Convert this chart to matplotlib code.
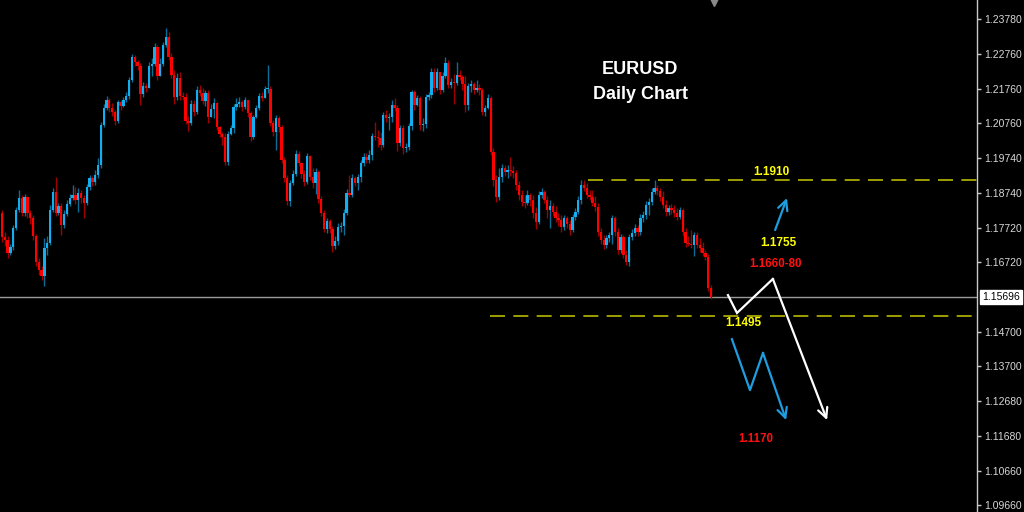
import numpy as np
import matplotlib
matplotlib.use("Agg")
import matplotlib.pyplot as plt
from matplotlib.transforms import blended_transform_factory

# ---------------- data ----------------
first_open = 1.1814
closes = [
    1.1745, 1.1736, 1.1698, 1.1716, 1.1771, 1.1823, 1.1858, 1.1814, 1.1861, 1.1814,
    1.1800, 1.1748, 1.1672, 1.1649, 1.1632, 1.1713, 1.1727, 1.1823, 1.1875, 1.1814,
    1.1835, 1.1779, 1.1811, 1.1840, 1.1858, 1.1866, 1.1852, 1.1872, 1.1858, 1.1843,
    1.1890, 1.1916, 1.1904, 1.1924, 1.1953, 1.2070, 1.2120, 1.2143, 1.2120, 1.2108,
    1.2082, 1.2137, 1.2126, 1.2143, 1.2155, 1.2201, 1.2268, 1.2253, 1.2242, 1.2160,
    1.2184, 1.2178, 1.2242, 1.2247, 1.2297, 1.2213, 1.2247, 1.2302, 1.2326, 1.2268,
    1.2215, 1.2152, 1.2207, 1.2155, 1.2152, 1.2082, 1.2076, 1.2131, 1.2108, 1.2172,
    1.2163, 1.2140, 1.2163, 1.2094, 1.2117, 1.2134, 1.2065, 1.2044, 1.2035, 1.1962,
    1.2044, 1.2062, 1.2123, 1.2131, 1.2137, 1.2123, 1.2143, 1.2105, 1.2035, 1.2094,
    1.2120, 1.2155, 1.2149, 1.2175, 1.2175, 1.2076, 1.2050, 1.2091, 1.2065, 1.1968,
    1.1916, 1.1849, 1.1901, 1.1927, 1.1986, 1.1959, 1.1927, 1.1904, 1.1980, 1.1919,
    1.1901, 1.1933, 1.1855, 1.1814, 1.1768, 1.1791, 1.1768, 1.1719, 1.1733, 1.1774,
    1.1777, 1.1814, 1.1872, 1.1866, 1.1916, 1.1901, 1.1919, 1.1959, 1.1977, 1.1968,
    1.1983, 1.2038, 1.2035, 1.2032, 1.2012, 1.2099, 1.2091, 1.2094, 1.2128, 1.2120,
    1.2018, 1.2062, 1.2003, 1.2006, 1.2067, 1.2166, 1.2128, 1.2149, 1.2070, 1.2073,
    1.2152, 1.2157, 1.2224, 1.2178, 1.2224, 1.2172, 1.2213, 1.2250, 1.2186, 1.2195,
    1.2192, 1.2215, 1.2210, 1.2189, 1.2128, 1.2184, 1.2189, 1.2172, 1.2178, 1.2172,
    1.2108, 1.2120, 1.2149, 1.1991, 1.1910, 1.1861, 1.1919, 1.1945, 1.1933, 1.1939,
    1.1936, 1.1930, 1.1895, 1.1866, 1.1846, 1.1843, 1.1866, 1.1852, 1.1814, 1.1788,
    1.1866, 1.1875, 1.1852, 1.1823, 1.1835, 1.1817, 1.1800, 1.1794, 1.1774, 1.1800,
    1.1782, 1.1765, 1.1803, 1.1817, 1.1852, 1.1895, 1.1887, 1.1866, 1.1861, 1.1843,
    1.1832, 1.1759, 1.1736, 1.1721, 1.1742, 1.1750, 1.1800, 1.1759, 1.1707, 1.1745,
    1.1692, 1.1672, 1.1745, 1.1756, 1.1771, 1.1759, 1.1800, 1.1808, 1.1837, 1.1846,
    1.1875, 1.1887, 1.1878, 1.1861, 1.1837, 1.1817, 1.1829, 1.1823, 1.1814, 1.1803,
    1.1823, 1.1759, 1.1727, 1.1724, 1.1721, 1.1750, 1.1721, 1.1713, 1.1698, 1.1687,
    1.1597, 1.15696]
highs = [
    1.1823, 1.1759, 1.1748, 1.1724, 1.1779, 1.1832, 1.1881, 1.1866, 1.1869, 1.1864,
    1.1823, 1.1808, 1.1753, 1.1684, 1.1661, 1.1742, 1.1748, 1.1837, 1.1887, 1.1919,
    1.1843, 1.1843, 1.1823, 1.1852, 1.1869, 1.1895, 1.1890, 1.1887, 1.1881, 1.1866,
    1.1898, 1.1924, 1.1922, 1.1939, 1.1974, 1.2079, 1.2131, 1.2155, 1.2149, 1.2134,
    1.2114, 1.2143, 1.2143, 1.2152, 1.2166, 1.2210, 1.2276, 1.2273, 1.2259, 1.2250,
    1.2195, 1.2192, 1.2253, 1.2265, 1.2308, 1.2302, 1.2265, 1.2311, 1.2352, 1.2340,
    1.2279, 1.2230, 1.2221, 1.2224, 1.2166, 1.2163, 1.2097, 1.2143, 1.2143, 1.2184,
    1.2186, 1.2178, 1.2172, 1.2172, 1.2131, 1.2149, 1.2137, 1.2067, 1.2050, 1.2047,
    1.2053, 1.2070, 1.2131, 1.2149, 1.2152, 1.2143, 1.2152, 1.2134, 1.2111, 1.2099,
    1.2128, 1.2163, 1.2166, 1.2184, 1.2244, 1.2184, 1.2085, 1.2099, 1.2097, 1.2070,
    1.1977, 1.1924, 1.1910, 1.1939, 1.1997, 1.1994, 1.1962, 1.1939, 1.1988, 1.1983,
    1.1945, 1.1945, 1.1939, 1.1864, 1.1823, 1.1800, 1.1797, 1.1777, 1.1748, 1.1785,
    1.1788, 1.1826, 1.1884, 1.1924, 1.1927, 1.1922, 1.1927, 1.1968, 1.1988, 1.1988,
    1.1997, 1.2047, 1.2079, 1.2056, 1.2050, 1.2108, 1.2114, 1.2105, 1.2143, 1.2149,
    1.2128, 1.2070, 1.2070, 1.2018, 1.2076, 1.2172, 1.2172, 1.2157, 1.2155, 1.2091,
    1.2160, 1.2166, 1.2236, 1.2236, 1.2236, 1.2224, 1.2224, 1.2268, 1.2259, 1.2207,
    1.2218, 1.2253, 1.2230, 1.2215, 1.2213, 1.2192, 1.2201, 1.2195, 1.2201, 1.2189,
    1.2178, 1.2128, 1.2160, 1.2155, 1.2003, 1.1924, 1.1945, 1.1956, 1.1953, 1.1953,
    1.1977, 1.1951, 1.1939, 1.1907, 1.1881, 1.1866, 1.1881, 1.1872, 1.1866, 1.1832,
    1.1878, 1.1887, 1.1881, 1.1864, 1.1852, 1.1843, 1.1835, 1.1814, 1.1808, 1.1808,
    1.1806, 1.1794, 1.1811, 1.1829, 1.1864, 1.1910, 1.1910, 1.1901, 1.1881, 1.1881,
    1.1864, 1.1843, 1.1771, 1.1750, 1.1750, 1.1759, 1.1808, 1.1806, 1.1771, 1.1753,
    1.1750, 1.1707, 1.1753, 1.1768, 1.1782, 1.1779, 1.1811, 1.1820, 1.1849, 1.1858,
    1.1887, 1.1910, 1.1895, 1.1887, 1.1878, 1.1852, 1.1837, 1.1840, 1.1837, 1.1829,
    1.1832, 1.1829, 1.1771, 1.1748, 1.1765, 1.1759, 1.1759, 1.1742, 1.1730, 1.1707,
    1.1695, 1.1605]
lows = [
    1.1730, 1.1719, 1.1684, 1.1692, 1.1707, 1.1765, 1.1817, 1.1806, 1.1806, 1.1800,
    1.1782, 1.1736, 1.1661, 1.1634, 1.1620, 1.1603, 1.1692, 1.1721, 1.1817, 1.1806,
    1.1808, 1.1750, 1.1771, 1.1806, 1.1835, 1.1852, 1.1840, 1.1817, 1.1843, 1.1800,
    1.1837, 1.1881, 1.1893, 1.1895, 1.1916, 1.1945, 1.2065, 1.2114, 1.2108, 1.2097,
    1.2070, 1.2076, 1.2114, 1.2123, 1.2137, 1.2146, 1.2195, 1.2242, 1.2230, 1.2128,
    1.2152, 1.2166, 1.2186, 1.2213, 1.2242, 1.2201, 1.2224, 1.2242, 1.2297, 1.2259,
    1.2207, 1.2131, 1.2143, 1.2143, 1.2143, 1.2073, 1.2053, 1.2070, 1.2097, 1.2102,
    1.2155, 1.2131, 1.2126, 1.2076, 1.2102, 1.2091, 1.2056, 1.2035, 1.2012, 1.1953,
    1.1953, 1.2041, 1.2047, 1.2114, 1.2123, 1.2111, 1.2117, 1.2094, 1.2023, 1.2029,
    1.2091, 1.2114, 1.2140, 1.2149, 1.2163, 1.2067, 1.2038, 1.1997, 1.2050, 1.1959,
    1.1904, 1.1837, 1.1835, 1.1895, 1.1922, 1.1951, 1.1916, 1.1893, 1.1898, 1.1910,
    1.1887, 1.1869, 1.1843, 1.1806, 1.1759, 1.1756, 1.1756, 1.1701, 1.1710, 1.1721,
    1.1759, 1.1750, 1.1808, 1.1861, 1.1861, 1.1893, 1.1881, 1.1904, 1.1951, 1.1959,
    1.1959, 1.1968, 1.2026, 1.2006, 1.1997, 1.2006, 1.2079, 1.2056, 1.2079, 1.2111,
    1.1994, 1.2009, 1.1986, 1.1991, 1.1997, 1.2056, 1.2114, 1.2126, 1.2056, 1.2053,
    1.2062, 1.2143, 1.2149, 1.2166, 1.2172, 1.2160, 1.2166, 1.2207, 1.2178, 1.2178,
    1.2131, 1.2186, 1.2201, 1.2172, 1.2108, 1.2114, 1.2166, 1.2160, 1.2166, 1.2157,
    1.2099, 1.2097, 1.2117, 1.1983, 1.1893, 1.1846, 1.1852, 1.1904, 1.1922, 1.1916,
    1.1922, 1.1916, 1.1881, 1.1852, 1.1835, 1.1829, 1.1837, 1.1835, 1.1800, 1.1768,
    1.1782, 1.1858, 1.1843, 1.1800, 1.1771, 1.1806, 1.1788, 1.1777, 1.1759, 1.1765,
    1.1771, 1.1750, 1.1759, 1.1794, 1.1811, 1.1840, 1.1878, 1.1858, 1.1852, 1.1835,
    1.1820, 1.1748, 1.1724, 1.1710, 1.1713, 1.1730, 1.1724, 1.1748, 1.1695, 1.1698,
    1.1684, 1.1663, 1.1661, 1.1736, 1.1748, 1.1748, 1.1750, 1.1788, 1.1797, 1.1808,
    1.1837, 1.1869, 1.1866, 1.1849, 1.1829, 1.1806, 1.1808, 1.1811, 1.1803, 1.1794,
    1.1797, 1.1748, 1.1716, 1.1719, 1.1713, 1.1689, 1.1713, 1.1701, 1.1689, 1.1678,
    1.1588, 1.1565]

tick_values = [1.23780, 1.22760, 1.21760, 1.20760, 1.19740, 1.18740, 1.17720,
               1.16720, 1.14700, 1.13700, 1.12680, 1.11680, 1.10660, 1.09660]
tick_labels = ["1.23780", "1.22760", "1.21760", "1.20760", "1.19740", "1.18740",
               "1.17720", "1.16720", "1.14700", "1.13700", "1.12680", "1.11680",
               "1.10660", "1.09660"]
current_price = 1.15696
current_label = "1.15696"

level_high = 1.1910
level_high_start = 207.5
level_low = 1.1515
level_low_start = 172.8

white_path_x = [257.0, 260.2, 272.9, 292.1]
white_path_p = [1.1576, 1.1524, 1.1623, 1.1213]
blue_path_x = [258.4, 264.8, 269.4, 277.6]
blue_path_p = [1.1448, 1.1300, 1.1408, 1.1213]
blue_up_x = [273.7, 277.9]
blue_up_p = [1.1765, 1.1858]

labels_yellow = [("1.1910", 272.2, 1.1934), ("1.1755", 274.7, 1.1727), ("1.1495", 262.3, 1.1495)]
labels_red = [("1.1660-80", 274.0, 1.1666), ("1.1170", 266.9, 1.1158)]
title_lines = [("EURUSD", 225.9, 1.2230), ("Daily Chart", 225.9, 1.2160)]
shift_marker_x = 252.1

# ---------------- figure ----------------
n = min(len(closes), len(highs), len(lows))
c = np.array(closes[:n])
o = np.concatenate([[first_open], c[:-1]])
h = np.maximum(np.array(highs[:n]), np.maximum(o, c))
l = np.minimum(np.array(lows[:n]), np.minimum(o, c))
x = np.arange(n)

W, H = 1024, 512
fig = plt.figure(figsize=(W / 100, H / 100), dpi=100, facecolor="black")
axw = 977 / W
ax = fig.add_axes([0, 0, axw, 1])
ax.set_facecolor("black")

s = 709.0 / (n - 1)  # pixels per bar
x0 = -2.0 / s
ax.set_xlim(x0, x0 + 977.0 / s)
ax.set_ylim(1.09460, 1.24332)

up = c >= o
blue, blue_w = "#12aef0", "#0b6e96"
red, red_w = "#ff0000", "#a00000"

ax.vlines(x[up], l[up], h[up], color=blue_w, lw=1.0, zorder=2)
ax.vlines(x[~up], l[~up], h[~up], color=red_w, lw=1.0, zorder=2)
body_b = np.minimum(o, c)
body_h = np.maximum(np.abs(c - o), 0.00012)
ax.bar(x[up], body_h[up], bottom=body_b[up], width=0.82, color=blue, lw=0, zorder=3)
ax.bar(x[~up], body_h[~up], bottom=body_b[~up], width=0.82, color=red, lw=0, zorder=3)

# horizontal levels
ax.axhline(current_price, color="#9a9a9a", lw=1.0, zorder=1)
xr = ax.get_xlim()[1]
ax.plot([level_high_start, xr], [level_high, level_high], color="#b8b800", lw=1.2,
        dashes=(9, 5), zorder=1)
ax.plot([level_low_start, xr], [level_low, level_low], color="#b8b800", lw=1.2,
        dashes=(9, 5), zorder=1)

# zigzag arrows
ax.plot(white_path_x[:-1], white_path_p[:-1], color="white", lw=1.6, zorder=5,
        solid_joinstyle="miter")
ax.annotate("", xy=(white_path_x[-1], white_path_p[-1]),
            xytext=(white_path_x[-2], white_path_p[-2]),
            arrowprops=dict(arrowstyle="->,head_length=0.7,head_width=0.35",
                            color="white", lw=1.6, shrinkA=0, shrinkB=0), zorder=5)
ax.plot(blue_path_x[:-1], blue_path_p[:-1], color="#1e9ee0", lw=1.6, zorder=5)
ax.annotate("", xy=(blue_path_x[-1], blue_path_p[-1]),
            xytext=(blue_path_x[-2], blue_path_p[-2]),
            arrowprops=dict(arrowstyle="->,head_length=0.7,head_width=0.35",
                            color="#1e9ee0", lw=1.6, shrinkA=0, shrinkB=0), zorder=5)
ax.annotate("", xy=(blue_up_x[1], blue_up_p[1]), xytext=(blue_up_x[0], blue_up_p[0]),
            arrowprops=dict(arrowstyle="->,head_length=0.7,head_width=0.35",
                            color="#1e9ee0", lw=1.6, shrinkA=0, shrinkB=0), zorder=5)

# texts
fam = ["Liberation Sans", "DejaVu Sans"]
for t, tx, ty in labels_yellow:
    ax.text(tx, ty, t, color="#ffff00", fontsize=8.5, fontweight="bold",
            ha="center", va="center", family=fam, zorder=6)
for t, tx, ty in labels_red:
    ax.text(tx, ty, t, color="#ff1010", fontsize=8.3, fontweight="bold",
            ha="center", va="center", family=fam, zorder=6)
for t, tx, ty in title_lines:
    ax.text(tx, ty, t, color="white", fontsize=13, fontweight="bold",
            ha="center", va="center", family=fam, zorder=6)

# shift marker at top
ax.plot([shift_marker_x], [1.2426], marker="v", color="#8a8a8a", ms=6,
        clip_on=False, zorder=6)

# axis styling
for sp in ["left", "top", "bottom"]:
    ax.spines[sp].set_visible(False)
ax.spines["right"].set_color("#c8c8c8")
ax.spines["right"].set_linewidth(1.0)
ax.set_xticks([])
ax.yaxis.tick_right()
ax.set_yticks(tick_values)
ax.set_yticklabels(tick_labels)
ax.tick_params(axis="y", direction="out", length=3, width=1, colors="#c8c8c8",
               labelcolor="#d8d8d8", labelsize=7.5, pad=2)
for lab in ax.get_yticklabels():
    lab.set_family(fam)

trans = blended_transform_factory(ax.transAxes, ax.transData)
ax.text(1.005, current_price, current_label, transform=trans, color="black",
        fontsize=7.5, ha="left", va="center", family=fam, zorder=7,
        bbox=dict(boxstyle="square,pad=0.2", fc="white", ec="white"))

fig.savefig("out.png", dpi=100, facecolor="black")
